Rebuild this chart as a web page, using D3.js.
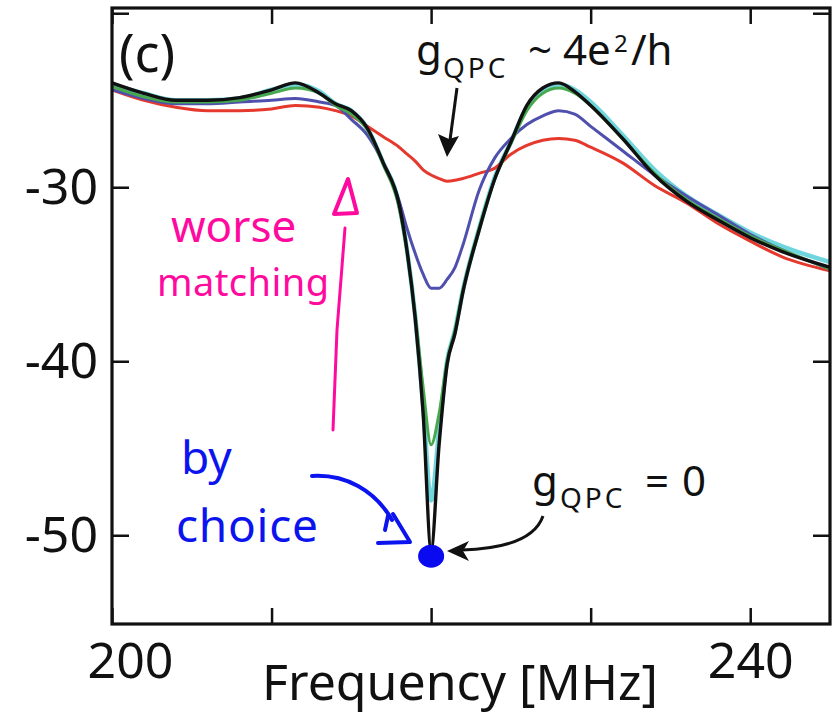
<!DOCTYPE html>
<html>
<head>
<meta charset="utf-8">
<script src="https://cdn.jsdelivr.net/npm/d3@7"></script>
<style>
  body { margin: 0; background: #fff; }
  svg { display: block; font-family: "Noto Sans", "Open Sans", sans-serif; }
</style>
</head>
<body>
<div id="chart"></div>
<script>
// frequencies in MHz, shared by all traces
var freqs = [200, 202, 204, 206, 208, 210, 211.5, 213, 214, 215, 216, 217, 218, 218.5, 219, 219.5,
  220, 220.5, 221, 221.5, 222, 223, 224, 225, 226, 227, 228, 229, 230, 232, 234, 236, 238, 240, 242, 245];

// reflection in dB
var cyanVals = [-24.1, -24.6, -25.0, -25.0, -24.9, -24.4, -24.1, -24.5, -25.2, -25.6, -26.6, -28.6, -31.0, -33.7, -37.4, -42.5,
  -48.0, -44.0, -40.0, -38.2, -35.9, -32.4, -29.4, -27.4, -25.4, -24.4, -24.1, -24.4, -25.1, -27.0, -29.0, -30.5, -31.6, -32.6, -33.4, -34.3];
var redVals = [-24.4, -25.0, -25.4, -25.6, -25.6, -25.5, -25.3, -25.4, -25.6, -25.9, -26.5, -27.1, -27.7, -28.1, -28.5, -29.0,
  -29.3, -29.5, -29.65, -29.6, -29.5, -29.2, -28.9, -28.1, -27.6, -27.3, -27.2, -27.3, -27.7, -28.6, -29.9, -30.9, -32.1, -33.1, -34.0, -34.8];
var blueVals = [-24.4, -24.9, -25.2, -25.2, -25.1, -25.0, -24.9, -25.1, -25.3, -26.1, -27.0, -28.6, -30.8, -32.4, -33.8, -35.0,
  -35.8, -35.8, -35.3, -34.6, -33.3, -30.2, -28.3, -27.2, -26.4, -25.9, -25.6, -25.8, -26.5, -27.9, -29.3, -30.5, -31.6, -32.7, -33.6, -34.7];
var greenVals = [-24.2, -24.8, -25.1, -25.1, -25.0, -24.6, -24.3, -24.6, -25.3, -25.8, -26.7, -28.7, -31.2, -33.8, -37.3, -41.5,
  -44.8, -43.0, -40.0, -38.2, -35.9, -32.4, -29.5, -27.5, -25.6, -24.6, -24.3, -24.6, -25.3, -27.2, -29.2, -30.7, -31.8, -32.8, -33.6, -34.7];
var blackVals = [-24.0, -24.6, -25.0, -25.0, -24.85, -24.4, -24.0, -24.6, -25.2, -25.6, -26.6, -28.6, -31.0, -33.7, -37.5, -43.0,
  -50.8, -44.8, -40.2, -38.4, -36.0, -32.5, -29.5, -27.4, -25.3, -24.3, -24.0, -24.5, -25.3, -27.2, -29.3, -30.8, -31.9, -32.9, -33.7, -34.6];

var series = [
  { name: "cyan", values: cyanVals, color: "#6fd6de", width: 4.5 },
  { name: "red", values: redVals, color: "#e5392e", width: 3 },
  { name: "blue", values: blueVals, color: "#4f4fae", width: 3 },
  { name: "green", values: greenVals, color: "#47a94f", width: 3 },
  { name: "black", values: blackVals, color: "#111111", width: 3.4 }
];

var xTicks = [200, 210, 220, 230, 240];
var xLabels = [200, 240];
var yTicks = [-50, -40, -30, -20];
var yLabels = [-50, -40, -30];

var width = 840;
var height = 717;
// note: "top" is taken by window.top, so use plot* names
var plotLeft = 112, plotRight = 830, plotTop = 8, plotBottom = 624;

var svg = d3.select("#chart")
  .append("svg")
  .attr("width", width)
  .attr("height", height);

var x = d3.scaleLinear().domain([200, 245]).range([plotLeft, plotRight]);
var y = d3.scaleLinear().domain([-55.1, -19.7]).range([plotBottom, plotTop]);

svg.append("clipPath").attr("id", "plotclip")
  .append("rect")
  .attr("x", plotLeft).attr("y", plotTop)
  .attr("width", plotRight - plotLeft).attr("height", plotBottom - plotTop);

// traces
var line = d3.line()
  .x(function (d) { return x(d[0]); })
  .y(function (d) { return y(d[1]); })
  .curve(d3.curveMonotoneX);

svg.append("g").attr("clip-path", "url(#plotclip)")
  .selectAll("path")
  .data(series)
  .enter()
  .append("path")
  .attr("d", function (s) { return line(freqs.map(function (f, i) { return [f, s.values[i]]; })); })
  .attr("fill", "none")
  .attr("stroke", function (s) { return s.color; })
  .attr("stroke-width", function (s) { return s.width; })
  .attr("stroke-linejoin", "round");

// axes, ticks pointing inward
function styleAxis(g) {
  g.select(".domain").remove();
  g.selectAll(".tick line").attr("stroke", "#111").attr("stroke-width", 2.5);
  g.selectAll(".tick text").attr("fill", "#111").style("font-size", "50px")
    .style("font-family", "'Noto Sans', sans-serif");
}

svg.append("g")
  .attr("transform", "translate(0," + plotBottom + ")")
  .call(d3.axisBottom(x).tickValues(xTicks).tickSizeInner(-16).tickSizeOuter(0).tickPadding(18)
    .tickFormat(function (d) { return xLabels.indexOf(d) >= 0 ? d : ""; }))
  .call(styleAxis)
  .selectAll(".tick text")
  .attr("dx", function (d) { return d === 200 ? 18 : 0; });

svg.append("g")
  .attr("transform", "translate(0," + plotTop + ")")
  .call(d3.axisTop(x).tickValues(xTicks).tickSizeInner(-16).tickSizeOuter(0).tickFormat(""))
  .call(styleAxis);

svg.append("g")
  .attr("transform", "translate(" + plotLeft + ",0)")
  .call(d3.axisLeft(y).tickValues(yTicks).tickSizeInner(-17).tickSizeOuter(0).tickPadding(14)
    .tickFormat(function (d) { return yLabels.indexOf(d) >= 0 ? d : ""; }))
  .call(styleAxis);

svg.append("g")
  .attr("transform", "translate(" + plotRight + ",0)")
  .call(d3.axisRight(y).tickValues(yTicks).tickSizeInner(-17).tickSizeOuter(0).tickFormat(""))
  .call(styleAxis);

svg.append("rect")
  .attr("x", plotLeft).attr("y", plotTop)
  .attr("width", plotRight - plotLeft).attr("height", plotBottom - plotTop)
  .attr("fill", "none").attr("stroke", "#111").attr("stroke-width", 3.2);

svg.append("text")
  .attr("x", 460).attr("y", 700)
  .attr("text-anchor", "middle")
  .style("font-size", "50px").attr("fill", "#111")
  .text("Frequency [MHz]");

svg.append("text")
  .attr("x", 119).attr("y", 72)
  .style("font-size", "52px").attr("fill", "#111")
  .text("(c)");

// g_QPC ~ 4e^2/h label and arrow
var t1 = svg.append("text").attr("fill", "#111").style("font-size", "42px");
t1.append("tspan").attr("x", 416).attr("y", 65).text("g");
t1.append("tspan").attr("x", 443).attr("y", 78).style("font-size", "28px")
  .style("letter-spacing", "3px").text("QPC");
t1.append("tspan").attr("x", 528).attr("y", 65).text("~");
t1.append("tspan").attr("x", 563).attr("y", 65).text("4e");
t1.append("tspan").attr("x", 614).attr("y", 52).style("font-size", "24px").text("2");
t1.append("tspan").attr("x", 631).attr("y", 65).text("/h");

svg.append("line")
  .attr("x1", 457).attr("y1", 88).attr("x2", 450).attr("y2", 140)
  .attr("stroke", "#111").attr("stroke-width", 3);
svg.append("path")
  .attr("d", "M447,157 L438,134 L449,139 L459,136 Z")
  .attr("fill", "#111");

// g_QPC = 0 label and curved arrow
var t2 = svg.append("text").attr("fill", "#111").style("font-size", "42px");
t2.append("tspan").attr("x", 532).attr("y", 496).text("g");
t2.append("tspan").attr("x", 560).attr("y", 508).style("font-size", "28px")
  .style("letter-spacing", "3px").text("QPC");
t2.append("tspan").attr("x", 645).attr("y", 496).text("=");
t2.append("tspan").attr("x", 682).attr("y", 496).text("0");

svg.append("path")
  .attr("d", "M543,516 Q532,548 462,550")
  .attr("fill", "none").attr("stroke", "#111").attr("stroke-width", 3);
svg.append("path")
  .attr("d", "M447,551 L469,541 L463,551 L469,561 Z")
  .attr("fill", "#111");

// blue dot at the chosen point
svg.append("ellipse")
  .attr("cx", x(220)).attr("cy", y(-51.2))
  .attr("rx", 13).attr("ry", 11.5)
  .attr("fill", "#0a0af0");

// hand-drawn notes
var pink = "#ff0a9e";
var blue = "#0b14ee";

svg.append("text").attr("x", 171).attr("y", 242)
  .attr("fill", pink).style("font-size", "44px").text("worse");
svg.append("text").attr("x", 157).attr("y", 296)
  .attr("fill", pink).style("font-size", "38px").attr("textLength", 172).text("matching");
svg.append("path")
  .attr("d", "M333,430 L337,330 L345,228")
  .attr("fill", "none").attr("stroke", pink).attr("stroke-width", 3).attr("stroke-linecap", "round");
svg.append("path")
  .attr("d", "M348,179 L334,214 L357,213 Z")
  .attr("fill", "none").attr("stroke", pink).attr("stroke-width", 4).attr("stroke-linejoin", "round");

svg.append("text").attr("x", 181).attr("y", 474)
  .attr("fill", blue).style("font-size", "46px").text("by");
svg.append("text").attr("x", 176).attr("y", 542)
  .attr("fill", blue).style("font-size", "46px").attr("textLength", 142).text("choice");
svg.append("path")
  .attr("d", "M312,476 C345,474 375,490 392,520")
  .attr("fill", "none").attr("stroke", blue).attr("stroke-width", 4).attr("stroke-linecap", "round");
svg.append("path")
  .attr("d", "M388,516 L385,530 M393,514 L410,542 L378,543")
  .attr("fill", "none").attr("stroke", blue).attr("stroke-width", 4)
  .attr("stroke-linecap", "round").attr("stroke-linejoin", "round");
</script>
</body>
</html>
